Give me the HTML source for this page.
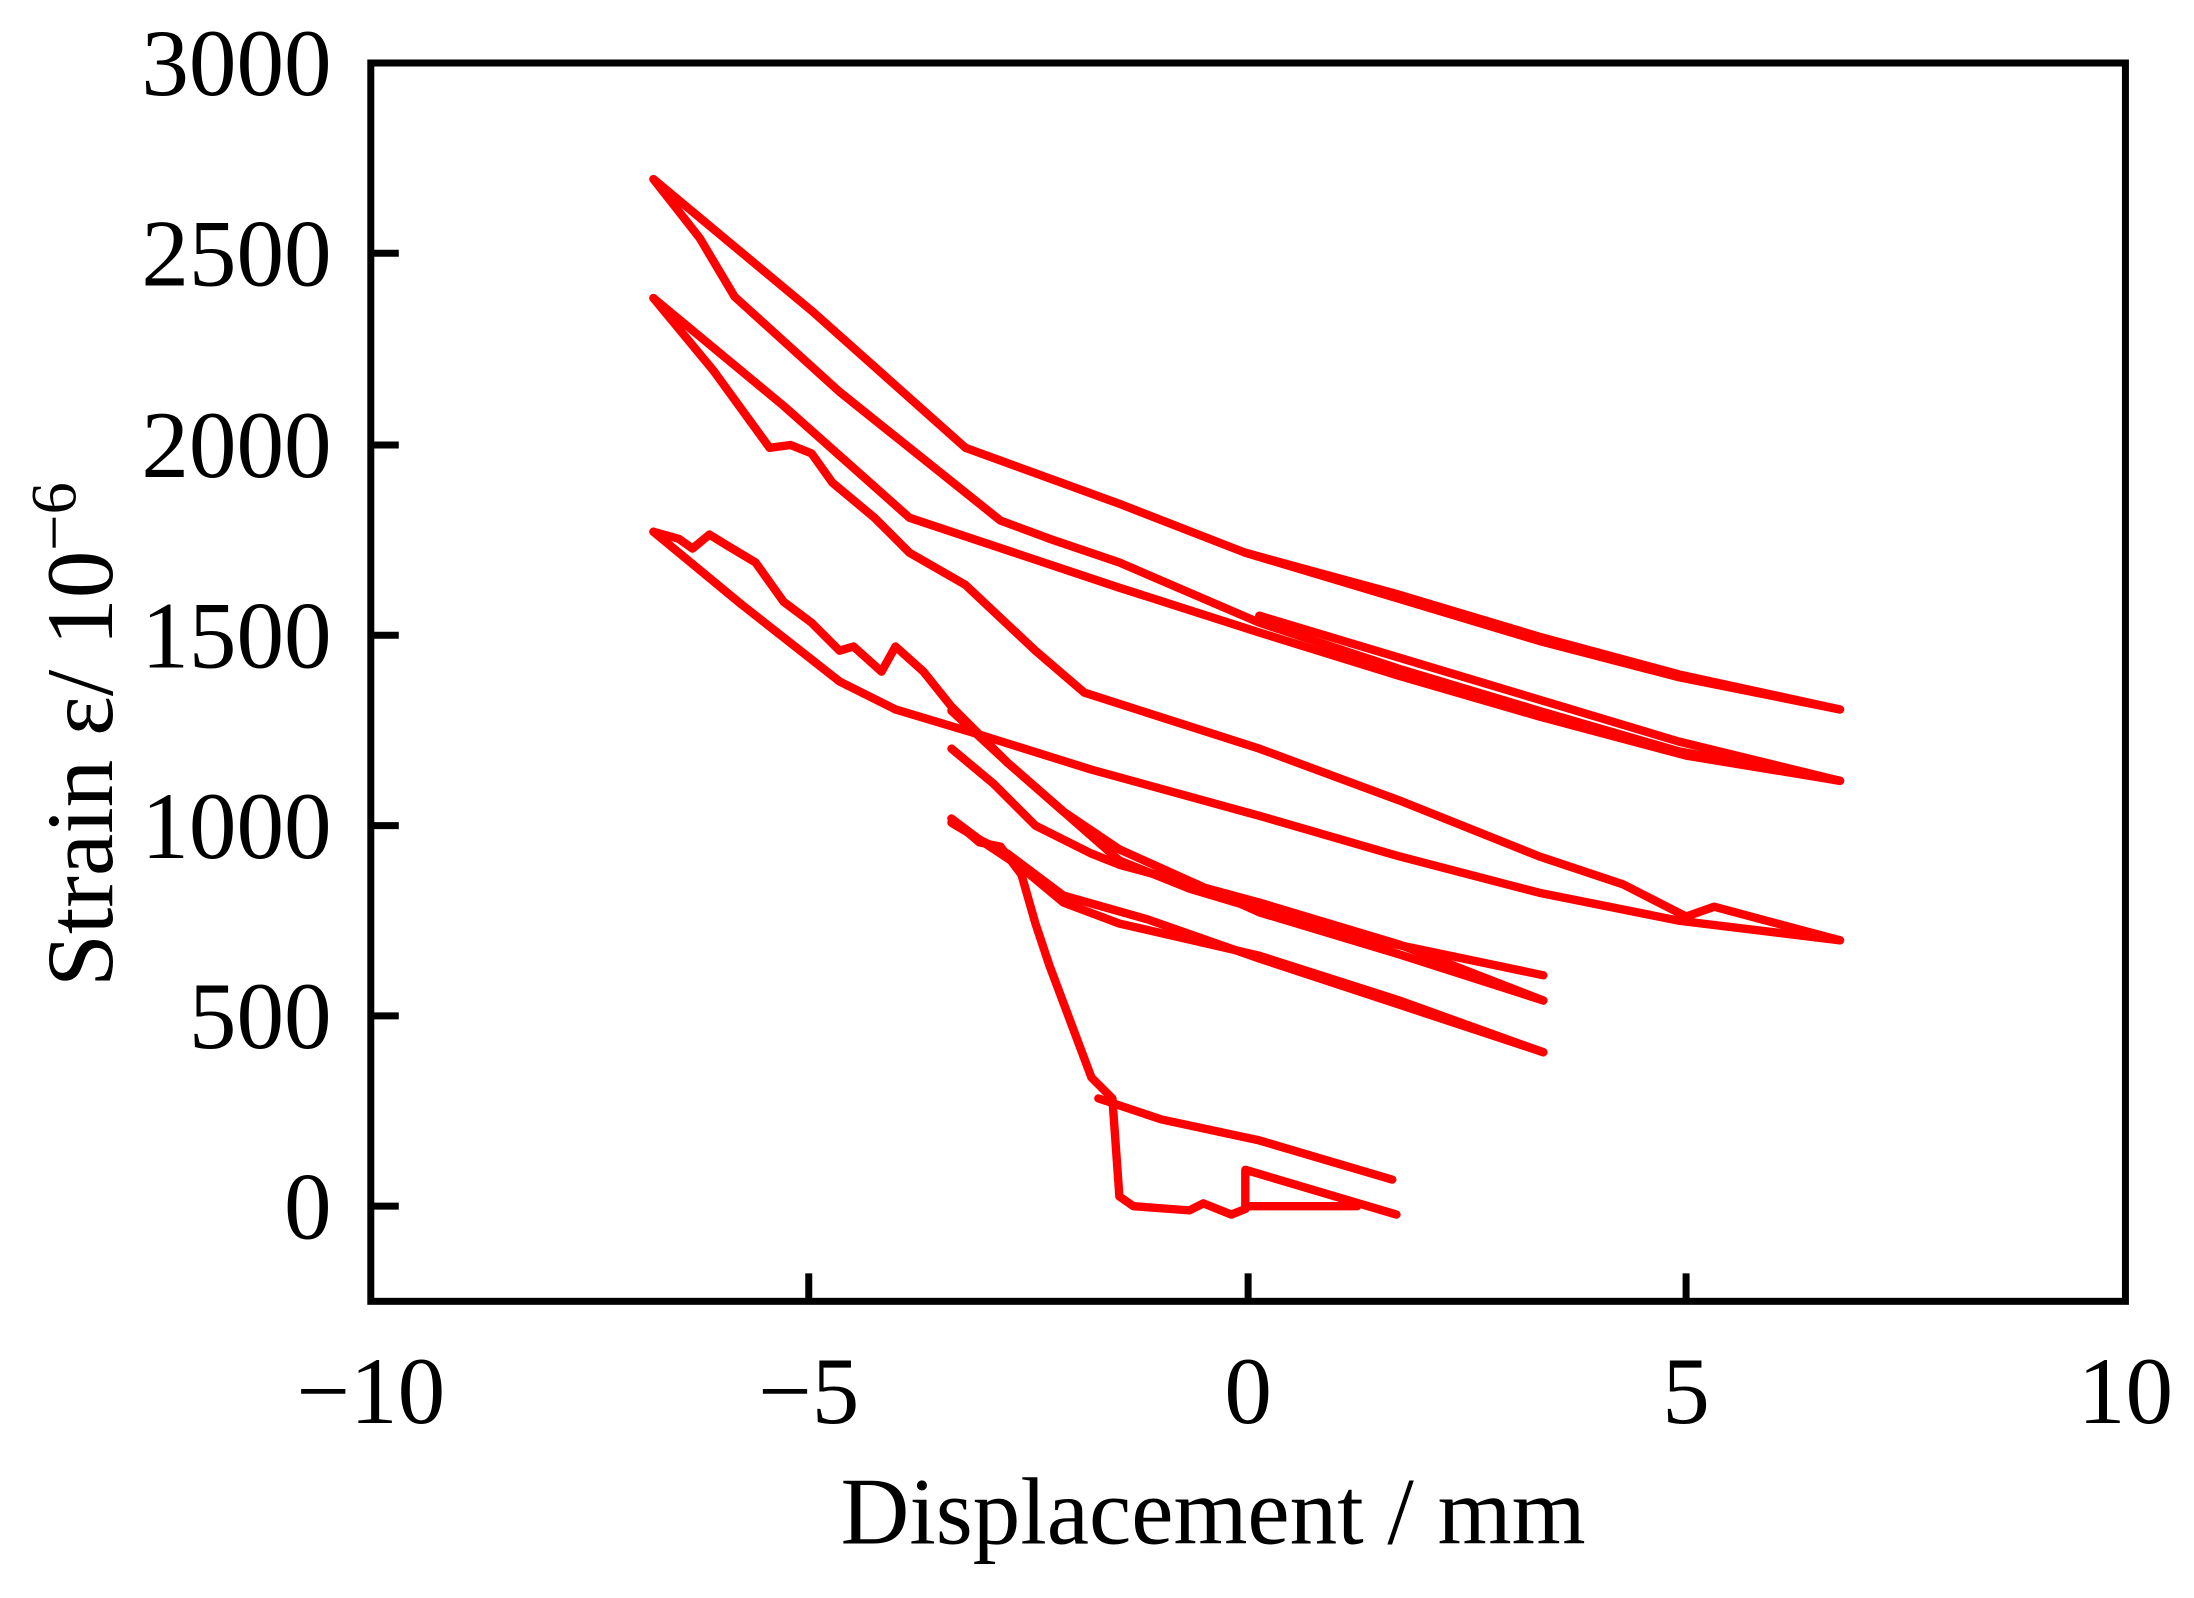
<!DOCTYPE html>
<html><head><meta charset="utf-8"><style>
html,body{margin:0;padding:0;background:#fff;}
svg{display:block;}
</style></head><body>
<svg width="2194" height="1598" viewBox="0 0 1568 1142" xmlns="http://www.w3.org/2000/svg">
<g fill="none" stroke="#ff0000" stroke-width="6" stroke-linejoin="round" stroke-linecap="round">
<polyline points="467,128 580,222 690,320 800,360 890,395 1000,425 1100,455 1200,482 1315,507"/>
<polyline points="890,395 1000,428 1100,458 1200,484 1315,507"/>
<polyline points="467,128 500,170 525,212 600,280 715,372 750,385 800,402 900,445 1000,478 1100,508 1200,537 1315,558"/>
<polyline points="1315,558 1200,530 1100,500 1000,470 900,440"/>
<polyline points="467,213 560,290 650,370 800,420 900,452 1000,483 1100,512 1205,540 1315,558"/>
<polyline points="467,213 510,265 550,320 565,318 580,324 595,345 625,370 650,395 690,418 740,465 775,495 900,535 1000,572 1100,612 1160,632 1205,655 1225,648 1315,672"/>
<polyline points="467,380 485,385 495,392 507,382 520,390 540,402 560,430 580,445 600,465 610,462 630,480 640,462 660,480 680,505 720,545 760,580 800,615 850,635 950,665 1103,697"/>
<polyline points="467,380 530,432 600,487 640,507 700,525 780,550 900,583 1000,612 1100,638 1200,658 1315,672"/>
<polyline points="680,535 710,560 740,590 780,610 800,618 900,645 1000,675 1103,715"/>
<polyline points="1103,715 1000,682 900,652 800,607 760,580 720,545 680,508"/>
<polyline points="680,585 700,600 720,610 760,640 820,657 900,685 1000,718 1103,752"/>
<polyline points="1103,752 1000,715 900,683 800,660 760,645 730,620 700,600 680,588"/>
<polyline points="680,585 700,602 715,605 730,625 740,660 750,690 765,730 780,770 795,785 800,855 810,862 850,865 860,860 880,868 890,864 890,836 998,868"/>
<polyline points="785,785 830,800 900,815 995,843"/>
<polyline points="890,862 970,862"/>
</g>
<rect x="265" y="45" width="1254" height="885" fill="none" stroke="#000" stroke-width="5"/>
<g stroke="#000" stroke-width="5">
<line x1="265" y1="862" x2="285" y2="862"/><line x1="265" y1="726" x2="285" y2="726"/>
<line x1="265" y1="590" x2="285" y2="590"/><line x1="265" y1="454" x2="285" y2="454"/>
<line x1="265" y1="318" x2="285" y2="318"/><line x1="265" y1="181" x2="285" y2="181"/>
<line x1="578" y1="930" x2="578" y2="910"/><line x1="892" y1="930" x2="892" y2="910"/>
<line x1="1205" y1="930" x2="1205" y2="910"/>
</g>
<g font-family="Liberation Serif, serif" font-size="68" fill="#000" text-anchor="end">
<text x="237" y="885">0</text><text x="237" y="749">500</text><text x="237" y="613">1000</text>
<text x="237" y="477">1500</text><text x="237" y="341">2000</text><text x="237" y="204">2500</text>
<text x="237" y="68">3000</text>
</g>
<g font-family="Liberation Serif, serif" font-size="68" fill="#000" text-anchor="middle">
<text x="265" y="1017">−10</text><text x="578" y="1017">−5</text><text x="892" y="1017">0</text>
<text x="1205" y="1017">5</text><text x="1519" y="1017">10</text>
<text x="867" y="1103">Displacement / mm</text>
</g>
<text transform="translate(80,525) rotate(-90)" font-family="Liberation Serif, serif" font-size="68" text-anchor="middle">Strain ε/ 10<tspan dy="-26" font-size="46">−6</tspan></text>
</svg>
</body></html>
